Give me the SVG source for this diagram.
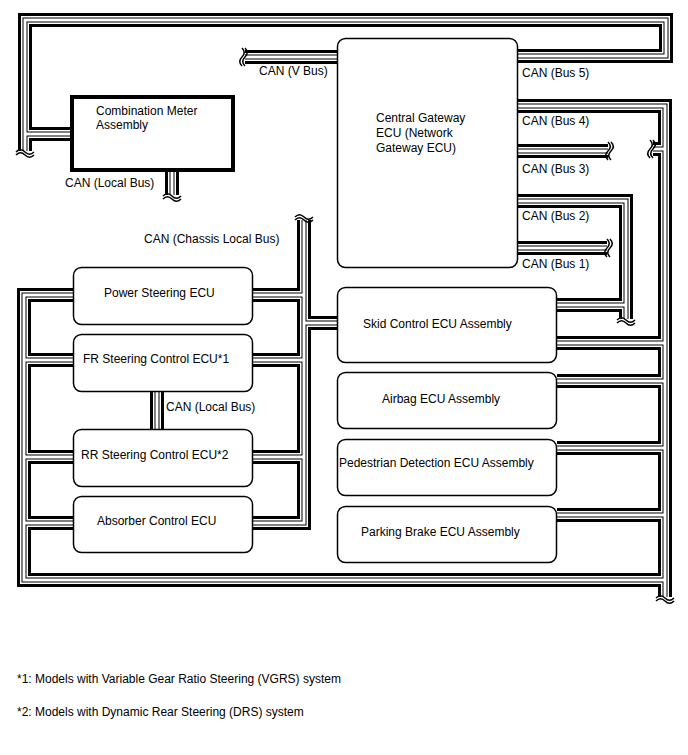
<svg xmlns="http://www.w3.org/2000/svg" width="688" height="755" viewBox="0 0 688 755">
<style>
.b1{fill:none;stroke:#000;stroke-width:14;stroke-linejoin:miter}
.b2{fill:none;stroke:#fff;stroke-width:8;stroke-linejoin:miter}
.b3{fill:none;stroke:#000;stroke-width:5;stroke-linejoin:miter}
.b4{fill:none;stroke:#fff;stroke-width:3;stroke-linejoin:miter}
.brk{fill:none;stroke:#000;stroke-width:1.5}
.box{fill:#fff;stroke:#000;stroke-width:1.5}
.meter{fill:#fff;stroke:#000;stroke-width:4}
text{font-family:"Liberation Sans",Arial,sans-serif;font-size:12px;fill:#000}
</style>
<defs>
<path id="bus" d="M25,151 V20 H666 V56 H518 M25,134 H72 M172,172 V195 M245,57 H337 M518,106 H665 V597 M665,149 H653 M518,151 H608 M518,201 H626 V319 M626,305 H557 M518,248 H607 M665,343 H557 M665,381 H557 M665,448 H557 M665,515 H557 M73,295 H24 V580 H665 M24,360 H73 M24,457 H73 M24,523 H73 M304,220 V523 H253 M304,295 H253 M304,360 H253 M304,457 H253 M304,323 H337 M157,392 V429"/>
</defs>
<g id="connectors">
<use href="#bus" class="b1"/>
<use href="#bus" class="b2"/>
<use href="#bus" class="b3"/>
<use href="#bus" class="b4"/>
<path class="brk" d="M16,152 c3,-3 6,-3 9,0 s6,3 9,0 M16,155 c3,-3 6,-3 9,0 s6,3 9,0"/>
<path class="brk" d="M163,196 c3,-3 6,-3 9,0 s6,3 9,0 M163,199 c3,-3 6,-3 9,0 s6,3 9,0"/>
<path class="brk" d="M295,217 c3,-3 6,-3 9,0 s6,3 9,0 M295,220 c3,-3 6,-3 9,0 s6,3 9,0"/>
<path class="brk" d="M617,320 c3,-3 6,-3 9,0 s6,3 9,0 M617,323 c3,-3 6,-3 9,0 s6,3 9,0"/>
<path class="brk" d="M656,598 c3,-3 6,-3 9,0 s6,3 9,0 M656,601 c3,-3 6,-3 9,0 s6,3 9,0"/>
<path class="brk" d="M245,48 c3,3 3,6 0,9 s-3,6 0,9 M242,48 c3,3 3,6 0,9 s-3,6 0,9"/>
<path class="brk" d="M608,142 c3,3 3,6 0,9 s-3,6 0,9 M611,142 c3,3 3,6 0,9 s-3,6 0,9"/>
<path class="brk" d="M607,239 c3,3 3,6 0,9 s-3,6 0,9 M610,239 c3,3 3,6 0,9 s-3,6 0,9"/>
<path class="brk" d="M653,140 c3,3 3,6 0,9 s-3,6 0,9 M650,140 c3,3 3,6 0,9 s-3,6 0,9"/>
</g>
<g id="meter">
<rect class="meter" x="72" y="97" width="161" height="73"/>
<text x="96" y="115">Combination Meter</text>
<text x="96" y="129">Assembly</text>
</g>
<g id="gateway">
<rect class="box" x="337.5" y="38.5" width="180" height="229" rx="8"/>
<text x="376" y="122">Central Gateway</text>
<text x="376" y="137">ECU (Network</text>
<text x="376" y="152">Gateway ECU)</text>
</g>
<g id="power-steering">
<rect class="box" x="73.5" y="267.5" width="179" height="57" rx="8"/>
<text x="104" y="297">Power Steering ECU</text>
</g>
<g id="fr-steering">
<rect class="box" x="73.5" y="334.5" width="179" height="57" rx="8"/>
<text x="83" y="363">FR Steering Control ECU*1</text>
</g>
<g id="rr-steering">
<rect class="box" x="73.5" y="429.5" width="179" height="57" rx="8"/>
<text x="81" y="459">RR Steering Control ECU*2</text>
</g>
<g id="absorber">
<rect class="box" x="73.5" y="496.5" width="179" height="56" rx="8"/>
<text x="97" y="525">Absorber Control ECU</text>
</g>
<g id="skid">
<rect class="box" x="337.5" y="287.5" width="219" height="75" rx="8"/>
<text x="363" y="328">Skid Control ECU Assembly</text>
</g>
<g id="airbag">
<rect class="box" x="337.5" y="372.5" width="219" height="56" rx="8"/>
<text x="382" y="403">Airbag ECU Assembly</text>
</g>
<g id="pedestrian">
<rect class="box" x="337.5" y="439.5" width="219" height="56" rx="8"/>
<text x="339" y="467">Pedestrian Detection ECU Assembly</text>
</g>
<g id="parking">
<rect class="box" x="337.5" y="506.5" width="219" height="56" rx="8"/>
<text x="361" y="536">Parking Brake ECU Assembly</text>
</g>
<g id="labels">
<text x="259" y="75">CAN (V Bus)</text>
<text x="522" y="77">CAN (Bus 5)</text>
<text x="522" y="125">CAN (Bus 4)</text>
<text x="522" y="173">CAN (Bus 3)</text>
<text x="522" y="220">CAN (Bus 2)</text>
<text x="522" y="268">CAN (Bus 1)</text>
<text x="65" y="187">CAN (Local Bus)</text>
<text x="144" y="243">CAN (Chassis Local Bus)</text>
<text x="166" y="411">CAN (Local Bus)</text>
<text x="17" y="683">*1: Models with Variable Gear Ratio Steering (VGRS) system</text>
<text x="17" y="716">*2: Models with Dynamic Rear Steering (DRS) system</text>
</g>
</svg>
